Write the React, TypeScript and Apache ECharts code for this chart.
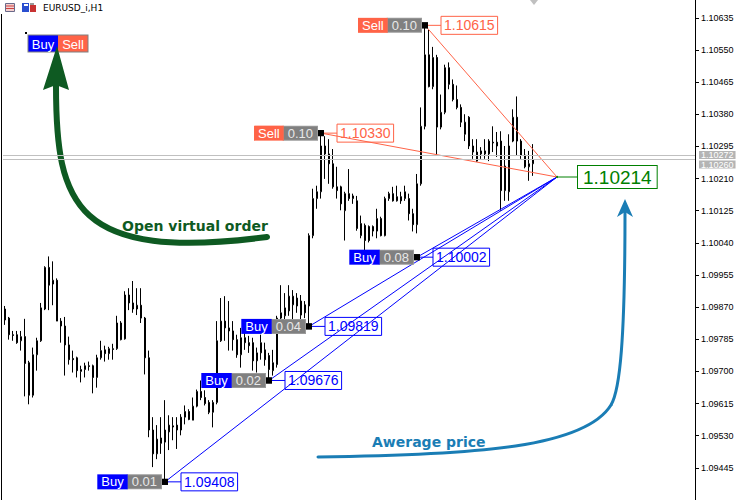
import React, { useEffect, useRef } from "react";
import * as echarts from "echarts";

// ---------- data ----------
const chartTitle = "EURUSD_i,H1";
const slotCount = 173; // bar slots across the plot (incl. empty chart shift area)

// [open, close, low, high] per H1 bar
const ohlc: number[][] = [
  [1.09865, 1.09836, 1.09823, 1.09873],
  [1.09841, 1.09797, 1.09784, 1.09844],
  [1.09797, 1.09795, 1.09781, 1.09807],
  [1.09797, 1.09776, 1.09773, 1.09807],
  [1.09781, 1.09792, 1.09755, 1.09807],
  [1.09792, 1.09721, 1.09634, 1.09839],
  [1.09723, 1.09637, 1.09613, 1.09728],
  [1.09637, 1.09744, 1.09631, 1.09763],
  [1.09744, 1.09781, 1.09702, 1.09789],
  [1.09781, 1.09868, 1.09778, 1.09881],
  [1.09865, 1.09975, 1.09862, 1.09978],
  [1.09975, 1.09928, 1.09862, 1.10004],
  [1.09931, 1.09941, 1.09875, 1.09991],
  [1.09941, 1.09833, 1.09833, 1.09946],
  [1.09833, 1.0982, 1.09776, 1.09841],
  [1.0982, 1.0977, 1.09689, 1.09844],
  [1.0977, 1.09731, 1.09718, 1.09792],
  [1.09734, 1.09731, 1.09697, 1.09755],
  [1.09736, 1.09702, 1.09684, 1.09739],
  [1.097, 1.09705, 1.09671, 1.09715],
  [1.09705, 1.09715, 1.09684, 1.09723],
  [1.09715, 1.09713, 1.09702, 1.09726],
  [1.09715, 1.09684, 1.09642, 1.09718],
  [1.09684, 1.09736, 1.09657, 1.09744],
  [1.09736, 1.09755, 1.09731, 1.09781],
  [1.09757, 1.09747, 1.09726, 1.09768],
  [1.09747, 1.0976, 1.09731, 1.09765],
  [1.0976, 1.09758, 1.09731, 1.09773],
  [1.0976, 1.09828, 1.09757, 1.09847],
  [1.09828, 1.09784, 1.09782, 1.09833],
  [1.09786, 1.09902, 1.09784, 1.09912],
  [1.09902, 1.09881, 1.09862, 1.0992],
  [1.09881, 1.09865, 1.09855, 1.09939],
  [1.09865, 1.09875, 1.09849, 1.0992],
  [1.09875, 1.09841, 1.09828, 1.0992],
  [1.09841, 1.09736, 1.09692, 1.09844],
  [1.09736, 1.09545, 1.09526, 1.09755],
  [1.09545, 1.09482, 1.09447, 1.09579],
  [1.09482, 1.09521, 1.09468, 1.09558],
  [1.09524, 1.0951, 1.09482, 1.09579],
  [1.09513, 1.09545, 1.09412, 1.09624],
  [1.0954, 1.09558, 1.09492, 1.09584],
  [1.09556, 1.09553, 1.09518, 1.09579],
  [1.09558, 1.09545, 1.09495, 1.09579],
  [1.09545, 1.09579, 1.09531, 1.09587],
  [1.09579, 1.09594, 1.0956, 1.0961],
  [1.09594, 1.09573, 1.09571, 1.096],
  [1.09571, 1.09608, 1.09571, 1.09631],
  [1.09608, 1.09647, 1.09605, 1.09652],
  [1.09647, 1.09631, 1.09624, 1.09676],
  [1.09631, 1.09615, 1.0961, 1.0965],
  [1.09618, 1.09592, 1.09587, 1.09624],
  [1.09592, 1.09618, 1.09552, 1.09624],
  [1.09618, 1.09781, 1.09613, 1.09833],
  [1.09781, 1.09833, 1.09778, 1.09894],
  [1.09833, 1.09815, 1.09781, 1.09899],
  [1.09815, 1.09807, 1.09755, 1.09886],
  [1.09807, 1.09784, 1.09755, 1.09833],
  [1.09784, 1.09744, 1.09736, 1.09797],
  [1.09744, 1.09789, 1.0971, 1.09815],
  [1.09789, 1.09776, 1.09757, 1.09807],
  [1.09776, 1.09768, 1.09749, 1.09794],
  [1.09776, 1.09728, 1.09702, 1.09789],
  [1.09728, 1.09749, 1.09697, 1.09763],
  [1.09749, 1.09776, 1.09731, 1.09797],
  [1.09757, 1.09731, 1.09715, 1.09776],
  [1.09742, 1.09705, 1.09679, 1.09749],
  [1.09702, 1.09723, 1.09689, 1.09757],
  [1.09718, 1.09841, 1.0971, 1.09847],
  [1.09841, 1.09855, 1.09828, 1.09928],
  [1.09847, 1.09868, 1.09833, 1.09907],
  [1.0986, 1.09899, 1.09847, 1.09928],
  [1.09876, 1.09899, 1.09836, 1.09915],
  [1.09873, 1.09894, 1.09855, 1.09907],
  [1.09886, 1.09849, 1.09833, 1.09902],
  [1.09876, 1.09855, 1.09841, 1.09886],
  [1.09873, 1.10059, 1.09819, 1.10065],
  [1.10059, 1.10157, 1.10052, 1.10183],
  [1.10157, 1.10175, 1.1013, 1.10191],
  [1.10175, 1.10296, 1.10157, 1.1033],
  [1.10296, 1.10275, 1.10209, 1.10322],
  [1.10275, 1.10249, 1.10196, 1.10314],
  [1.10249, 1.10188, 1.10183, 1.10288],
  [1.10188, 1.10178, 1.10157, 1.10241],
  [1.10188, 1.10143, 1.10126, 1.10191],
  [1.10125, 1.1017, 1.10046, 1.10175],
  [1.1017, 1.10157, 1.10151, 1.10235],
  [1.10157, 1.10164, 1.10143, 1.1017],
  [1.10151, 1.10078, 1.10072, 1.10164],
  [1.10059, 1.10091, 1.10052, 1.10112],
  [1.10086, 1.10046, 1.10016, 1.10091],
  [1.10083, 1.10046, 1.10041, 1.10086],
  [1.10083, 1.10071, 1.10057, 1.10086],
  [1.10071, 1.10104, 1.10052, 1.1013],
  [1.10104, 1.10059, 1.10057, 1.10109],
  [1.10059, 1.10157, 1.10057, 1.10162],
  [1.10157, 1.1017, 1.10151, 1.10175],
  [1.1017, 1.10151, 1.10149, 1.10188],
  [1.10151, 1.10162, 1.10149, 1.10191],
  [1.10162, 1.10151, 1.10143, 1.10175],
  [1.10157, 1.10175, 1.10151, 1.10191],
  [1.10157, 1.10117, 1.10099, 1.1017],
  [1.10117, 1.10088, 1.1007, 1.1013],
  [1.10088, 1.10196, 1.10065, 1.10222],
  [1.10196, 1.10348, 1.10191, 1.10398],
  [1.10348, 1.10537, 1.1034, 1.10615],
  [1.10537, 1.10453, 1.10451, 1.10603],
  [1.10453, 1.1053, 1.10446, 1.10558],
  [1.1053, 1.10346, 1.1027, 1.10537],
  [1.10346, 1.10385, 1.1034, 1.10432],
  [1.10385, 1.10503, 1.1038, 1.10511],
  [1.10503, 1.10459, 1.10446, 1.10517],
  [1.10459, 1.10419, 1.10414, 1.10472],
  [1.10419, 1.10398, 1.10393, 1.10456],
  [1.10398, 1.10359, 1.10346, 1.10406],
  [1.10327, 1.10359, 1.10309, 1.1038],
  [1.10372, 1.10296, 1.10288, 1.10375],
  [1.10296, 1.1028, 1.10262, 1.10314],
  [1.1028, 1.10256, 1.10254, 1.10314],
  [1.10275, 1.10283, 1.10262, 1.10293],
  [1.10275, 1.10283, 1.10262, 1.10314],
  [1.10275, 1.10309, 1.10256, 1.10314],
  [1.10306, 1.10304, 1.1028, 1.10348],
  [1.10306, 1.10296, 1.10267, 1.10333],
  [1.10309, 1.10178, 1.10125, 1.10335],
  [1.10178, 1.10243, 1.10151, 1.10296],
  [1.10175, 1.10296, 1.10151, 1.10327],
  [1.10309, 1.10372, 1.10306, 1.10393],
  [1.10372, 1.10309, 1.1027, 1.10427],
  [1.10309, 1.10272, 1.10262, 1.10314],
  [1.10272, 1.10241, 1.10237, 1.10288],
  [1.10241, 1.10249, 1.10204, 1.10283],
  [1.10249, 1.1026, 1.10217, 1.10301],
];

// virtual orders
const orderTypes = ["Buy", "Buy", "Buy", "Buy", "Sell", "Sell"];
const orderLots = ["0.01", "0.02", "0.04", "0.08", "0.10", "0.10"];
const orderBars = [40, 66, 76, 103, 79, 105];
const orderPrices = [1.09408, 1.09676, 1.09819, 1.10002, 1.1033, 1.10615];

const averageBar = 138;
const averagePrice = 1.10214;
const bidPrice = 1.1026;
const askPrice = 1.10272;

// price scale
const priceMin = 1.0936;
const priceMax = 1.10682;
const priceStep = 0.00085;

const buyColor = "#0000ff";
const sellColor = "#ff6347";
const avgColor = "#008000";

export default function App() {
  const ref = useRef<HTMLDivElement>(null);

  useEffect(() => {
    const chart = echarts.init(ref.current as HTMLDivElement, null, { renderer: "svg" });
    const slots = Array.from({ length: slotCount }, (_, i) => String(i));

    const orderLines = orderTypes.map((t, i) => ({
      type: "line",
      z: 3,
      silent: true,
      showSymbol: false,
      symbol: "none",
      lineStyle: { color: t === "Buy" ? buyColor : sellColor, width: 1, opacity: 1 },
      data: [
        [orderBars[i], orderPrices[i]],
        [averageBar, averagePrice],
      ],
    }));

    const connectorLines = orderTypes.map((t, i) => ({
      type: "line",
      z: 3,
      silent: true,
      showSymbol: false,
      symbol: "none",
      lineStyle: { color: t === "Buy" ? buyColor : sellColor, width: 1, opacity: 1 },
      data: [
        [orderBars[i], orderPrices[i]],
        [orderBars[i] + 4, orderPrices[i]],
      ],
    }));

    const tagFont = "Liberation Sans";

    const option: any = {
      animation: false,
      backgroundColor: "#ffffff",
      grid: { left: 3, top: 0, right: 55, height: 503 },
      xAxis: {
        type: "category",
        data: slots,
        boundaryGap: true,
        show: false,
      },
      yAxis: {
        type: "value",
        position: "right",
        min: priceMin,
        max: priceMax,
        interval: priceStep,
        scale: true,
        splitLine: { show: false },
        axisLine: { show: true, lineStyle: { color: "#000", width: 1 } },
        axisTick: { show: true, length: 4, inside: false, lineStyle: { color: "#000" } },
        axisLabel: {
          showMinLabel: false,
          showMaxLabel: false,
          margin: 6,
          color: "#000",
          fontSize: 9,
          fontFamily: tagFont,
          formatter: (v: number) => v.toFixed(5),
        },
      },
      series: [
        {
          type: "candlestick",
          z: 2,
          silent: true,
          barWidth: 2,
          data: ohlc,
          itemStyle: {
            color: "#ffffff",
            color0: "#000000",
            borderColor: "#000000",
            borderColor0: "#000000",
            borderWidth: 1,
          },
          markLine: {
            silent: true,
            symbol: "none",
            precision: 5,
            animation: false,
            lineStyle: { color: "#c0c0c0", width: 1, type: "solid" },
            label: {
              show: true,
              position: "end",
              distance: 4,
              color: "#ffffff",
              backgroundColor: "#b4b4b4",
              padding: [0, 2, 0, 2],
              lineHeight: 8,
              fontSize: 9,
              fontFamily: tagFont,
              formatter: (p: any) => Number(p.value).toFixed(5),
            },
            data: [
              { yAxis: askPrice, label: { offset: [0, 0] } },
              { yAxis: bidPrice, label: { offset: [0, 5] } },
            ],
          },
        },
        ...orderLines,
        ...connectorLines,
        {
          type: "line",
          z: 3,
          silent: true,
          showSymbol: false,
          symbol: "none",
          lineStyle: { color: avgColor, width: 1 },
          data: [
            [averageBar, averagePrice],
            [averageBar + 5, averagePrice],
          ],
        },
        // order tags (type + lots) with the black marker
        {
          type: "scatter",
          z: 5,
          silent: true,
          symbol: "rect",
          symbolSize: 6,
          itemStyle: { color: "#000000", opacity: 1 },
          label: {
            show: true,
            position: "left",
            distance: 1,
            opacity: 1,
            rich: {
              b: {
                color: "#ffffff",
                backgroundColor: buyColor,
                fontSize: 13,
                fontFamily: tagFont,
                lineHeight: 15,
                padding: [1, 4, 1, 4],
              },
              s: {
                color: "#ffffff",
                backgroundColor: sellColor,
                fontSize: 13,
                fontFamily: tagFont,
                lineHeight: 15,
                padding: [1, 4, 1, 4],
              },
              l: {
                color: "#e8e8e8",
                backgroundColor: "#808080",
                borderColor: "#9a9a9a",
                borderWidth: 1,
                fontSize: 13,
                fontFamily: tagFont,
                lineHeight: 15,
                padding: [0, 4, 0, 4],
              },
            },
          },
          data: orderTypes.map((t, i) => ({
            value: [orderBars[i], orderPrices[i]],
            label: {
              formatter: `{${t === "Buy" ? "b" : "s"}|${t}}{l|${orderLots[i]}}`,
            },
          })),
        },
        // order price boxes
        {
          type: "scatter",
          z: 5,
          silent: true,
          symbol: "rect",
          symbolSize: 6,
          itemStyle: { color: "#000000", opacity: 1 },
          data: orderTypes.map((t, i) => ({
            value: [orderBars[i], orderPrices[i]],
            label: {
              show: true,
              position: "right",
              distance: 13,
              opacity: 1,
              formatter: orderPrices[i].toFixed(5),
              color: t === "Buy" ? buyColor : sellColor,
              borderColor: t === "Buy" ? buyColor : sellColor,
              borderWidth: 1,
              padding: [2, 3, 1, 3],
              fontSize: 14,
              lineHeight: 15,
              fontFamily: tagFont,
            },
          })),
        },
        // average price box
        {
          type: "scatter",
          z: 5,
          silent: true,
          symbol: "circle",
          symbolSize: 2,
          itemStyle: { color: avgColor, opacity: 1 },
          data: [
            {
              value: [averageBar, averagePrice],
              label: {
                show: true,
                position: "right",
                distance: 20,
                opacity: 1,
                formatter: averagePrice.toFixed(5),
                color: avgColor,
                backgroundColor: "#ffffff",
                borderColor: avgColor,
                borderWidth: 1,
                padding: [2, 5, 1, 5],
                fontSize: 19,
                lineHeight: 19,
                fontFamily: tagFont,
              },
            },
          ],
        },
      ],
      graphic: [
        // left window border
        { type: "line", silent: true, shape: { x1: 1.5, y1: 14, x2: 1.5, y2: 500 }, style: { stroke: "#000", lineWidth: 1 } },
        // icons
        { type: "rect", silent: true, shape: { x: 5.5, y: 3.5, width: 9, height: 8 }, style: { fill: "#f2d0d0", stroke: "#6a6a8a", lineWidth: 1 } },
        { type: "line", silent: true, shape: { x1: 6, y1: 6, x2: 14, y2: 6 }, style: { stroke: "#d04040", lineWidth: 1 } },
        { type: "line", silent: true, shape: { x1: 6, y1: 8.5, x2: 14, y2: 8.5 }, style: { stroke: "#d04040", lineWidth: 1 } },
        { type: "rect", silent: true, shape: { x: 22, y: 3, width: 7, height: 9 }, style: { fill: "#2a4fd0" } },
        { type: "rect", silent: true, shape: { x: 24, y: 4, width: 4, height: 2 }, style: { fill: "#ffffff" } },
        { type: "rect", silent: true, shape: { x: 30, y: 5, width: 6, height: 7 }, style: { fill: "#c83232" } },
        { type: "rect", silent: true, shape: { x: 30, y: 3, width: 4, height: 2 }, style: { fill: "#9a9a9a" } },
        {
          type: "text",
          silent: true,
          x: 43,
          y: 8,
          style: { text: chartTitle, fill: "#000", font: '9px "DejaVu Sans"', align: "left", verticalAlign: "middle", textAlign: "left", textVerticalAlign: "middle" },
        },
        // Buy / Sell buttons
        { type: "rect", silent: true, shape: { x: 25, y: 32, width: 2, height: 2 }, style: { fill: "#000" } },
        { type: "rect", silent: true, shape: { x: 27.5, y: 34.5, width: 61, height: 18 }, style: { fill: "#808080" } },
        { type: "rect", silent: true, shape: { x: 28.5, y: 35.5, width: 29.5, height: 16 }, style: { fill: buyColor } },
        { type: "rect", silent: true, shape: { x: 58, y: 35.5, width: 29.5, height: 16 }, style: { fill: sellColor } },
        {
          type: "text",
          silent: true,
          x: 43,
          y: 44,
          style: { text: "Buy", fill: "#fff", font: '13px "Liberation Sans"', align: "center", verticalAlign: "middle", textAlign: "center", textVerticalAlign: "middle" },
        },
        {
          type: "text",
          silent: true,
          x: 73,
          y: 44,
          style: { text: "Sell", fill: "#fff", font: '13px "Liberation Sans"', align: "center", verticalAlign: "middle", textAlign: "center", textVerticalAlign: "middle" },
        },
        // chart shift marker
        { type: "polygon", silent: true, shape: { points: [[530, 0], [538, 0], [534, 5]] }, style: { fill: "#c0c0c0" } },
        // green arrow: open virtual order
        {
          type: "bezierCurve",
          silent: true,
          shape: { x1: 56, y1: 86, cpx1: 56, cpy1: 205, cpx2: 75, cpy2: 262, x2: 267, y2: 237 },
          style: { stroke: "#0e5a22", lineWidth: 6, fill: "none", lineCap: "round" },
        },
        { type: "polygon", silent: true, shape: { points: [[57, 46], [69, 90], [56, 85], [43, 90]] }, style: { fill: "#0e5a22" } },
        {
          type: "text",
          silent: true,
          x: 122,
          y: 226,
          style: { text: "Open virtual order", fill: "#0e5a22", font: 'bold 14px "DejaVu Sans"', align: "left", verticalAlign: "middle", textAlign: "left", textVerticalAlign: "middle" },
        },
        // blue arrow: average price
        {
          type: "bezierCurve",
          silent: true,
          shape: { x1: 318, y1: 457, cpx1: 480, cpy1: 455, cpx2: 585, cpy2: 447, x2: 611, y2: 405 },
          style: { stroke: "#1a7db5", lineWidth: 3, fill: "none", lineCap: "round" },
        },
        {
          type: "bezierCurve",
          silent: true,
          shape: { x1: 611, y1: 405, cpx1: 620, cpy1: 390, cpx2: 625, cpy2: 340, x2: 625, y2: 212 },
          style: { stroke: "#1a7db5", lineWidth: 3, fill: "none" },
        },
        { type: "polygon", silent: true, shape: { points: [[625, 199], [633, 217], [625, 212], [617, 217]] }, style: { fill: "#1a7db5" } },
        {
          type: "text",
          silent: true,
          x: 372,
          y: 442,
          style: { text: "Awerage price", fill: "#1a7db5", font: 'bold 14px "DejaVu Sans"', align: "left", verticalAlign: "middle", textAlign: "left", textVerticalAlign: "middle" },
        },
      ],
    };

    chart.setOption(option);
    return () => chart.dispose();
  }, []);

  return (
    <div
      ref={ref}
      style={{ position: "fixed", left: 0, top: 0, width: 750, height: 500, background: "#fff" }}
    />
  );
}
